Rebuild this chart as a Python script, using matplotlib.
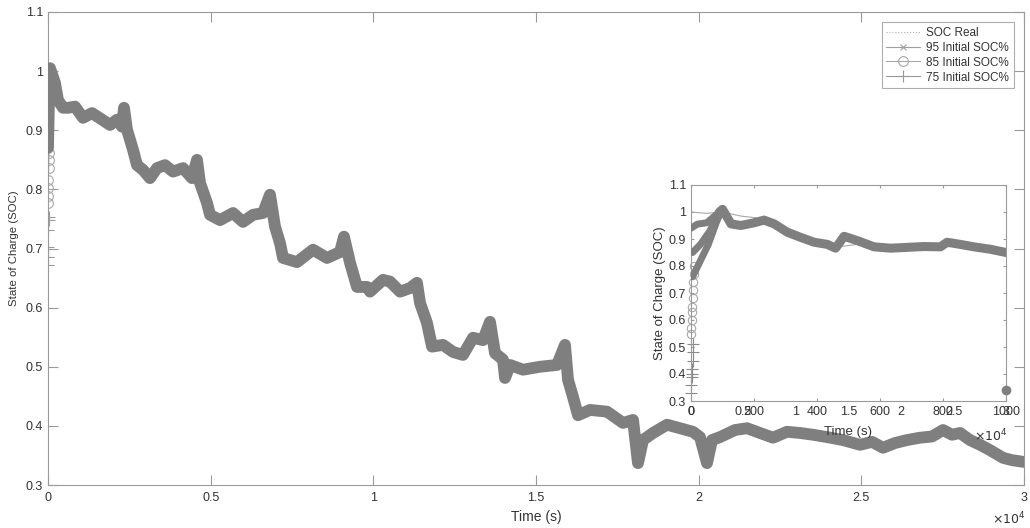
import matplotlib
matplotlib.use("Agg")
import matplotlib.pyplot as plt

plt.rcParams['font.family'] = ['Liberation Sans', 'DejaVu Sans']

# full run, 0 - 30000 s (the three filters have converged and overlap)
time_s = [0, 30, 61, 215, 307, 461, 615, 830, 1076, 1353,
          1660, 1906, 2121, 2275, 2336, 2428, 2613, 2736, 2920, 3135,
          3351, 3597, 3843, 4150, 4427, 4580, 4672, 4888, 4980, 5287,
          5687, 5994, 6302, 6609, 6824, 6978, 7132, 7224, 7654, 8146,
          8576, 8976, 9098, 9283, 9498, 9806, 9898, 10297, 10512, 10820,
          11127, 11342, 11435, 11650, 11804, 12142, 12449, 12756, 13064, 13371,
          13586, 13740, 13986, 14047, 14201, 14600, 15123, 15645, 15891, 15984,
          16137, 16291, 16660, 17184, 17675, 17982, 18135, 18289, 18596, 19027,
          19426, 19826, 20041, 20256, 20410, 20656, 21117, 21486, 21885, 22285,
          22715, 23115, 23514, 23945, 24436, 24959, 25328, 25666, 26035, 26404,
          26803, 27172, 27510, 27787, 28033, 28340, 28648, 28955, 29355, 29631,
          30000]
soc_est = [0.87, 0.95, 1.005, 0.98, 0.951, 0.938, 0.938, 0.94, 0.921, 0.929,
           0.918, 0.909, 0.918, 0.906, 0.938, 0.901, 0.867, 0.841, 0.833, 0.819,
           0.836, 0.841, 0.830, 0.836, 0.819, 0.850, 0.811, 0.777, 0.757, 0.748,
           0.760, 0.745, 0.757, 0.760, 0.791, 0.737, 0.709, 0.684, 0.677, 0.698,
           0.684, 0.694, 0.720, 0.676, 0.635, 0.635, 0.627, 0.647, 0.644, 0.627,
           0.633, 0.642, 0.608, 0.574, 0.534, 0.537, 0.525, 0.520, 0.549, 0.545,
           0.576, 0.523, 0.512, 0.481, 0.503, 0.495, 0.500, 0.503, 0.537, 0.478,
           0.449, 0.418, 0.427, 0.424, 0.405, 0.410, 0.337, 0.376, 0.388, 0.402,
           0.396, 0.390, 0.381, 0.337, 0.376, 0.381, 0.393, 0.396, 0.388, 0.380,
           0.390, 0.388, 0.385, 0.381, 0.376, 0.368, 0.373, 0.363, 0.371, 0.376,
           0.380, 0.382, 0.393, 0.385, 0.388, 0.376, 0.368, 0.359, 0.346, 0.342,
           0.339]

# first samples before convergence
t95 = [0, 10, 20]
soc95 = [0.93, 0.95, 0.97]
t85 = [0, 5, 10, 15, 20, 25, 30]
soc85 = [0.777, 0.789, 0.802, 0.816, 0.836, 0.85, 0.862]
t75 = [0, 5, 10, 15, 20, 25]
soc75 = [0.672, 0.686, 0.703, 0.731, 0.748, 0.753]

# zoomed view, first 1000 s
zoom_t = [90, 100, 127, 158, 200, 232, 264, 306, 348, 391, 433, 459,
          486, 528, 581, 634, 686, 739, 792, 813, 855, 898, 950, 1000]
zoom_est = [1.0, 1.01, 0.956, 0.95, 0.96, 0.97, 0.956, 0.925, 0.906, 0.888, 0.88, 0.866,
            0.91, 0.894, 0.871, 0.866, 0.869, 0.872, 0.871, 0.888, 0.88, 0.871, 0.862, 0.85]
zoom_real_t = [0, 50, 100, 158, 232, 306, 391, 459, 528, 581, 634, 686, 739, 792, 855, 950, 1000]
zoom_real = [1.0, 0.995, 1.0, 0.985, 0.975, 0.94, 0.9, 0.87, 0.88, 0.865, 0.857,
             0.862, 0.868, 0.87, 0.875, 0.862, 0.85]
zoom95_t = [0, 20, 50, 70, 90]
zoom95 = [0.94, 0.955, 0.96, 0.98, 1.0]
zoom85_t = [5, 30, 60, 90]
zoom85 = [0.85, 0.88, 0.93, 1.0]
zoom75_t = [5, 30, 55, 80, 95]
zoom75 = [0.76, 0.82, 0.88, 0.96, 1.0]
zoom_o_t = [0, 1, 2, 3, 4, 5, 6, 7, 8, 9]
zoom_o = [0.55, 0.57, 0.60, 0.63, 0.65, 0.68, 0.71, 0.74, 0.77, 0.80]
zoom_p_t = [0, 1, 2, 3, 4, 5, 6, 7]
zoom_p = [0.33, 0.36, 0.39, 0.40, 0.42, 0.45, 0.48, 0.51]

x_ticks = [0, 5000, 10000, 15000, 20000, 25000, 30000]
x_labels = ['0', '0.5', '1', '1.5', '2', '2.5', '3']
y_ticks = [0.3, 0.4, 0.5, 0.6, 0.7, 0.8, 0.9, 1.0, 1.1]
y_labels = ['0.3', '0.4', '0.5', '0.6', '0.7', '0.8', '0.9', '1', '1.1']
zoom_ticks = [0, 200, 400, 600, 800, 1000]

grey = '#7f7f7f'
axis_col = '#9a9a9a'
text_col = '#333333'


def style(ax, ticklen, fs):
    for s in ax.spines.values():
        s.set_color(axis_col)
    ax.tick_params(direction='in', length=ticklen, width=0.8, color=axis_col,
                   labelcolor=text_col, labelsize=fs, top=True, right=True)


fig = plt.figure(figsize=(10.3, 5.28), dpi=100)
ax = fig.add_axes([48/1030, 43/528, 976/1030, 473/528])
style(ax, 7, 9)
ax.tick_params(axis='x', pad=5)

ax.plot(time_s, soc_est, color=grey, lw=8.5, solid_capstyle='round',
        solid_joinstyle='round', zorder=3)
ax.plot(time_s, soc_est, ':', color='#b0b0b0', lw=0.8, label='SOC Real', zorder=2)
ax.plot(t95, soc95, '-x', color='#a0a0a0', lw=0.8, ms=5, mew=0.8, label='95 Initial SOC%')
ax.plot(t85, soc85, '-o', color='#a8a8a8', lw=0.8, ms=7, mew=0.8, mfc='none',
        label='85 Initial SOC%')
ax.plot(t75, soc75, '-+', color='#9a9a9a', lw=0.8, ms=8, mew=0.8, label='75 Initial SOC%')

ax.set_xlim(0, 30000)
ax.set_ylim(0.3, 1.1)
ax.set_xticks(x_ticks)
ax.set_xticklabels(x_labels)
ax.set_yticks(y_ticks)
ax.set_yticklabels(y_labels)
ax.set_xlabel('Time (s)', fontsize=10, color=text_col, labelpad=4)
ax.set_ylabel('State of Charge (SOC)', fontsize=8.2, color=text_col, labelpad=5)
fig.text(1025/1030, 1 - 519/528, r'$\times10^{4}$', ha='right', va='center',
         fontsize=9, color=text_col)

leg = ax.legend(loc='upper right', bbox_to_anchor=(1014/1030, 1 - 22/528),
                bbox_transform=fig.transFigure, fontsize=8.5, frameon=True,
                fancybox=False, borderaxespad=0, handlelength=2.9,
                labelspacing=0.25, borderpad=0.4, handletextpad=0.5)
leg.get_frame().set_edgecolor(axis_col)
leg.get_frame().set_linewidth(0.8)
for t in leg.get_texts():
    t.set_color(text_col)

# inset: first 1000 s
rect = [691/1030, 1 - 401/528, 315/1030, 216/528]
ax_in = fig.add_axes(rect)
style(ax_in, 2.5, 9)
ax_in.plot(zoom_real_t, zoom_real, '-', color='#a8a8a8', lw=0.8, zorder=2)
ax_in.plot(zoom_t, zoom_est, color=grey, lw=6.5, solid_capstyle='round',
           solid_joinstyle='round', zorder=3)
ax_in.plot(zoom95_t, zoom95, color=grey, lw=5, solid_capstyle='round', zorder=3)
ax_in.plot(zoom85_t, zoom85, color=grey, lw=5, solid_capstyle='round', zorder=3)
ax_in.plot(zoom75_t, zoom75, color=grey, lw=5, solid_capstyle='round', zorder=3)
ax_in.plot(zoom_o_t, zoom_o, 'o', color='#a8a8a8', ms=6, mfc='none', mew=0.8, clip_on=False)
ax_in.plot(zoom_p_t, zoom_p, '+', color='#8a8a8a', ms=8, mew=0.8, clip_on=False)
ax_in.set_xlim(0, 1000)
ax_in.set_ylim(0.3, 1.1)
ax_in.set_xticks(zoom_ticks)
ax_in.set_yticks(y_ticks)
ax_in.set_yticklabels(y_labels)
ax_in.set_xlabel('Time (s)', fontsize=9.5, color=text_col, labelpad=6)
ax_in.set_ylabel('State of Charge (SOC)', fontsize=9.5, color=text_col, labelpad=2)

# second set of axes stacked on the inset, full time scale
ax_in2 = fig.add_axes(rect, facecolor='none')
ax_in2.set_xlim(0, 30000)
ax_in2.set_ylim(0.3, 1.1)
ax_in2.set_xticks(x_ticks)
ax_in2.set_xticklabels(x_labels)
ax_in2.set_yticks([])
ax_in2.tick_params(axis='x', length=0, labelsize=9, labelcolor=text_col)
for s in ax_in2.spines.values():
    s.set_visible(False)
ax_in2.plot(time_s[-1:], soc_est[-1:], 'o', color=grey, ms=6, clip_on=False)
fig.text(1007/1030, 1 - 436/528, r'$\times10^{4}$', ha='right', va='center',
         fontsize=9, color=text_col)

fig.savefig('out.png', dpi=100)
